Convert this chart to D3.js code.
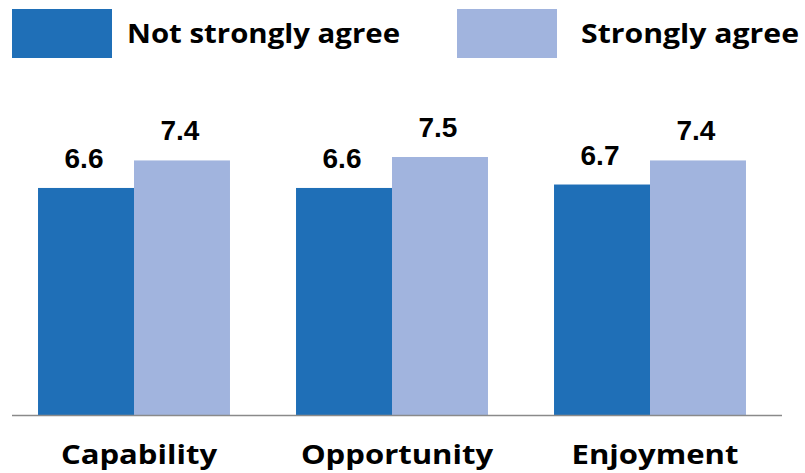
<!DOCTYPE html>
<html><head><meta charset="utf-8">
<script src="https://cdn.jsdelivr.net/npm/d3@7"></script>
<style>body{margin:0;background:#fff}</style>
</head><body>
<svg id="c" width="805" height="473"></svg>
<script>
const categories = ["Capability", "Opportunity", "Enjoyment"];
const seriesNames = ["Not strongly agree", "Strongly agree"];
const notStronglyAgree = [6.6, 6.6, 6.7];
const stronglyAgree = [7.4, 7.5, 7.4];
const colors = ["#1F6FB7", "#A1B4DE"];

const svg = d3.select("#c");
const font = "'Open Sans', sans-serif";
const x0 = d3.scaleBand().domain(categories).range([5, 779]).paddingInner(0.256).paddingOuter(0.128);
const x1 = d3.scaleBand().domain(seriesNames).range([0, x0.bandwidth()]);
const y = d3.scaleLinear().domain([0, 10]).range([415, 71]);
const seriesVals = [notStronglyAgree, stronglyAgree];

const data = categories.map((c, i) => ({c, vals: seriesNames.map((s, j) => ({s, j, v: seriesVals[j][i]}))}));

const g = svg.selectAll("g.grp").data(data).join("g").attr("class","grp")
  .attr("transform", d => `translate(${x0(d.c)},0)`);
g.selectAll("rect").data(d => d.vals).join("rect")
  .attr("x", d => x1(d.s)).attr("width", x1.bandwidth())
  .attr("y", d => y(d.v)).attr("height", d => y(0) - y(d.v))
  .attr("fill", d => colors[d.j]);
g.selectAll("text.val").data(d => d.vals).join("text").attr("class","val")
  .attr("x", d => x1(d.s) + x1.bandwidth()/2 - 2)
  .attr("y", d => y(d.v) - 20)
  .attr("text-anchor","middle")
  .attr("font-family","'Liberation Sans', Arial, sans-serif")
  .attr("font-weight","bold").attr("font-size", 28).attr("fill","#000")
  .text(d => d.v.toFixed(1));

// axis baseline
svg.append("line").attr("x1", 12).attr("x2", 782).attr("y1", y(0)+0.5).attr("y2", y(0)+0.5)
  .attr("stroke", "#8a8a8a").attr("stroke-width", 1.5);

// category labels
const xa = d3.axisBottom(x0).tickSize(0).tickPadding(0);
const ax = svg.append("g").attr("transform", `translate(5,${y(0)})`).call(xa);
ax.select(".domain").remove();
ax.selectAll("text").attr("dy", null).attr("y", 49)
  .attr("font-family", font).attr("font-weight", 700).attr("font-size", 27).attr("fill","#000")
  .each(function(){ const w = this.getComputedTextLength(); d3.select(this).attr("textLength", w*1.15).attr("lengthAdjust","spacingAndGlyphs"); });

// legend
const legend = [
  {name: seriesNames[0], color: colors[0], bx: 12, tx: 127, tw: 273},
  {name: seriesNames[1], color: colors[1], bx: 457, tx: 581, tw: 218}
];
const lg = svg.selectAll("g.lg").data(legend).join("g").attr("class","lg");
lg.append("rect").attr("x", d => d.bx).attr("y", 9).attr("width", 100).attr("height", 49).attr("fill", d => d.color);
lg.append("text").attr("x", d => d.tx).attr("y", 43)
  .attr("font-family", font).attr("font-weight", 700).attr("font-size", 27).attr("fill","#000")
  .attr("textLength", d => d.tw).attr("lengthAdjust","spacingAndGlyphs")
  .text(d => d.name);
</script>
</body></html>
